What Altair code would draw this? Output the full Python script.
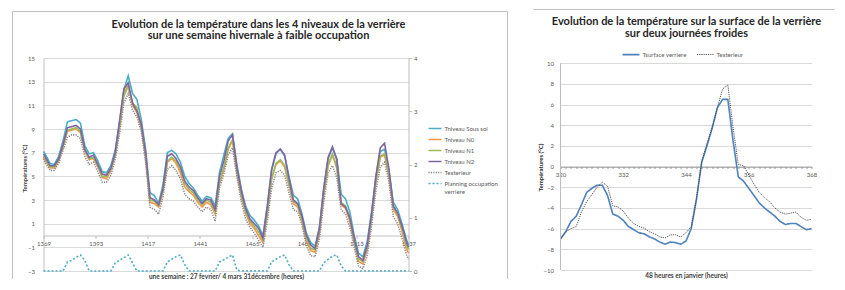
import altair as alt
import pandas as pd

FONT = "Lato"
GRID = "#d9d9d9"
AXC = "#bfbfbf"
TXT = "#595959"

# ---------------- left chart data ----------------
hours = [1369] + list(range(1370, 1537, 2)) + [1537]

sous_sol = [7.1, 6.8, 6.1, 6.0, 6.7, 8.0, 9.6, 9.7, 9.8, 9.5,
            7.6, 6.9, 7.0, 6.3, 5.4, 5.3, 5.9, 7.2, 9.5, 12.3,
            13.5, 12.0, 11.5, 9.8, 7.3, 3.6, 3.4, 2.7, 4.3, 7.0,
            7.2, 6.9, 6.2, 5.0, 4.4, 4.0, 3.4, 2.9, 3.3, 3.2,
            2.5, 5.3, 6.8, 8.2, 8.6, 6.0, 4.0, 2.5, 1.7, 1.3,
            0.8, 0.0, 2.5, 5.5, 6.9, 7.3, 6.7, 5.0, 3.4, 3.1,
            1.8, 0.2, -0.6, -0.9, 0.7, 4.0, 6.5, 7.4, 6.5, 3.5,
            3.1, 2.0, 0.0, -1.5, -1.8, -0.5, 2.0, 5.0, 7.1, 7.3,
            5.5, 2.8, 2.2, 1.0, -0.3, -0.8]
niveau_n0 = [6.6, 6.3, 5.7, 5.7, 6.3, 7.5, 8.8, 8.9, 9.0, 8.7,
             7.1, 6.4, 6.5, 5.8, 4.9, 4.8, 5.5, 6.8, 9.2, 12.0,
             12.7, 11.0, 10.4, 9.1, 6.6, 2.8, 2.7, 2.4, 3.7, 6.2,
             6.5, 6.1, 5.3, 4.1, 3.7, 3.4, 2.8, 2.4, 2.8, 2.6,
             1.8, 4.4, 5.6, 7.3, 8.0, 5.3, 3.3, 1.9, 1.0, 0.6,
             0.0, -0.6, 1.9, 4.8, 6.0, 6.3, 5.8, 4.2, 2.7, 2.4,
             1.2, -0.5, -1.3, -1.4, 0.2, 3.4, 5.9, 6.8, 5.7, 2.6,
             2.3, 1.2, -0.6, -2.2, -2.4, -1.2, 1.4, 4.5, 6.6, 6.8,
             5.0, 2.2, 1.6, 0.4, -1.1, -1.5]
niveau_n1 = [6.7, 6.4, 5.8, 5.8, 6.4, 7.6, 8.9, 9.0, 9.1, 8.8,
             7.2, 6.5, 6.6, 5.9, 5.0, 5.0, 5.6, 6.9, 9.2, 11.8,
             12.6, 11.2, 10.8, 9.3, 6.8, 3.0, 2.9, 2.5, 3.9, 6.3,
             6.6, 6.3, 5.6, 4.4, 3.9, 3.6, 3.0, 2.6, 3.0, 2.8,
             2.0, 4.5, 5.7, 7.4, 8.1, 5.5, 3.5, 2.1, 1.2, 0.8,
             0.3, -0.4, 2.0, 4.8, 6.1, 6.4, 5.9, 4.4, 2.9, 2.6,
             1.4, -0.2, -1.1, -1.2, 0.4, 3.6, 6.0, 6.9, 5.8, 2.8,
             2.5, 1.5, -0.4, -2.0, -2.2, -1.0, 1.6, 4.6, 6.7, 6.9,
             5.2, 2.4, 1.8, 0.6, -0.8, -1.2]
niveau_n2 = [6.9, 6.6, 5.9, 5.9, 6.5, 7.7, 9.1, 9.2, 9.3, 9.0,
             7.3, 6.6, 6.8, 6.0, 5.2, 5.1, 5.7, 7.0, 9.7, 12.4,
             12.9, 11.2, 10.5, 9.4, 7.0, 3.2, 3.0, 2.6, 4.0, 6.7,
             6.9, 6.5, 5.8, 4.6, 4.1, 3.8, 3.2, 2.7, 3.1, 3.0,
             2.2, 5.0, 6.3, 8.0, 8.5, 5.8, 3.8, 2.3, 1.4, 1.0,
             0.6, -0.2, 2.4, 5.6, 7.0, 7.3, 6.8, 4.8, 3.0, 2.7,
             1.6, 0.0, -0.8, -1.1, 0.6, 4.0, 6.6, 7.5, 6.4, 2.7,
             2.4, 1.5, -0.2, -1.8, -2.1, -0.8, 1.8, 5.0, 7.4, 7.8,
             5.6, 2.5, 1.9, 0.8, -0.5, -1.0]
t_exterieur = [6.5, 6.1, 5.5, 5.5, 6.1, 7.2, 8.3, 8.5, 8.5, 8.2,
               6.7, 6.0, 6.2, 5.4, 4.5, 4.5, 5.1, 6.4, 8.6, 11.2,
               12.0, 10.6, 10.0, 8.8, 6.2, 2.4, 2.2, 1.8, 3.3, 5.6,
               5.9, 5.5, 4.8, 3.5, 3.1, 2.9, 2.4, 2.0, 2.4, 2.2,
               1.2, 4.0, 5.2, 6.8, 7.4, 5.0, 2.9, 1.4, 0.7, 0.2,
               -0.4, -1.0, 1.2, 4.0, 5.3, 5.5, 5.1, 3.6, 2.2, 2.0,
               0.9, -0.9, -1.7, -1.8, -0.3, 2.8, 5.3, 5.9, 4.9, 2.2,
               1.8, 0.7, -1.0, -2.6, -2.8, -1.7, 0.8, 3.8, 5.8, 6.2,
               4.5, 1.6, 1.0, -0.2, -1.6, -2.0]
planning = [0, 0, 0, 0, 0, 0, 0.17, 0.2, 0.26, 0.3,
            0.2, 0, 0, 0, 0, 0, 0, 0.15, 0.2, 0.25,
            0.3, 0.15, 0, 0, 0, 0, 0, 0, 0, 0.17,
            0.22, 0.27, 0.3, 0.12, 0, 0, 0, 0, 0, 0,
            0, 0.17, 0.21, 0.26, 0.3, 0.02, 0, 0, 0, 0,
            0, 0, 0, 0.17, 0.22, 0.27, 0.3, 0.12, 0, 0,
            0, 0, 0, 0, 0, 0.15, 0.22, 0.28, 0.3, 0.1,
            0, 0, 0, 0, 0, 0, 0, 0, 0, 0,
            0, 0, 0, 0, 0, 0]

series_names = ["Tniveau Sous sol", "Tniveau N0", "Tniveau N1", "Tniveau N2",
                "Texterieur", "Planning occupation verriere"]
series_colors = ["#4bacc6", "#f79646", "#9bbb59", "#8064a2", "#8a8a8a", "#4bacc6"]
series_dash = [[1, 0], [1, 0], [1, 0], [1, 0], [1.2, 1.2], [2, 2]]
series_width = [1.6, 1.6, 1.6, 1.6, 1.0, 1.2]

x_ticks_left = [1369, 1393, 1417, 1441, 1465, 1489, 1513, 1537]
y_ticks_left = [-3, -1, 1, 3, 5, 7, 9, 11, 13, 15]
y2_ticks_left = [0, 1, 2, 3, 4]

title_left = ["Evolution de la température dans les 4 niveaux de la verrière",
              "sur une semaine hivernale à faible occupation"]
xtitle_left = "une semaine : 27 fevrier/ 4 mars 31décembre (heures)"
ytitle = "Températures (°C)"

# ---------------- right chart data ----------------
hours_r = list(range(320, 369))
t_surface = [-7.0, -6.3, -5.3, -4.8, -3.7, -2.5, -2.1, -1.8, -1.8, -2.8,
             -4.6, -4.8, -5.2, -5.8, -6.1, -6.4, -6.5, -6.8, -7.0, -7.3,
             -7.5, -7.3, -7.35, -7.5, -7.2, -6.0, -3.2, 0.4, 2.0, 3.7,
             5.7, 6.5, 6.5, 2.5, -1.0, -1.4, -2.1, -2.8, -3.5, -4.0,
             -4.4, -4.8, -5.3, -5.6, -5.5, -5.5, -5.8, -6.1, -6.0]
t_ext_r = [-7.0, -6.3, -6.0, -5.8, -4.4, -3.4, -2.7, -2.0, -1.5, -1.9,
           -3.8, -3.9, -4.3, -5.0, -5.5, -5.8, -5.95, -6.3, -6.5, -6.8,
           -6.9, -6.6, -6.6, -6.8, -6.4, -5.8, -3.0, 0.5, 2.2, 3.8,
           5.7, 7.5, 7.9, 3.8, 0.2, 0.1, -0.8, -1.7, -2.5, -3.0,
           -3.4, -4.0, -4.4, -4.6, -4.5, -4.4, -4.9, -5.2, -5.1]
right_names = ["Tsurface verriere", "Texterieur "]
right_colors = ["#4f81bd", "#404040"]
right_dash = [[1, 0], [1.2, 1]]
right_width = [1.6, 0.9]
y_ticks_right = [-10, -8, -6, -4, -2, 0, 2, 4, 6, 8, 10]
y_axis_span = [-10, 10]
title_right = ["Evolution de la température sur la surface de la verrière",
               "sur deux journées froides"]
xtitle_right = "48 heures en janvier (heures)"

# ---------------- build tables ----------------
rows = []
for name, vals in zip(series_names[:5], [sous_sol, niveau_n0, niveau_n1, niveau_n2, t_exterieur]):
    for h, v in zip(hours, vals):
        rows.append({"h": h, "v": v, "s": name})
temp_df = pd.DataFrame(rows)
plan_df = pd.DataFrame({"h": hours, "p": planning, "s": series_names[5]})

rows_r = []
for name, vals in zip(right_names, [t_surface, t_ext_r]):
    for h, v in zip(hours_r, vals):
        rows_r.append({"h": h, "v": v, "r": name})
right_df = pd.DataFrame(rows_r)
axis_df = pd.DataFrame({"h": [hours_r[0]], "v": [y_axis_span[0]], "v2": [y_axis_span[1]]})

one = pd.DataFrame({"k": [0]})

# ---------------- left chart ----------------
LW, LH = 365, 213
leg_left = alt.Legend(title=None, orient="none", legendX=384, legendY=63,
                      symbolType="stroke", symbolSize=170, symbolStrokeWidth=2,
                      labelFont=FONT, labelFontSize=6, labelColor=TXT, labelOffset=2,
                      rowPadding=0, padding=0,
                      labelExpr="datum.label == 'Planning occupation verriere' ? ['Planning occupation', 'verriere'] : datum.label")
color_l = alt.Color("s:N", scale=alt.Scale(domain=series_names, range=series_colors), legend=leg_left)
dash_l = alt.StrokeDash("s:N", scale=alt.Scale(domain=series_names, range=series_dash), legend=leg_left)
width_l = alt.StrokeWidth("s:N", scale=alt.Scale(domain=series_names, range=series_width), legend=None)

x_left = alt.X("h:Q", scale=alt.Scale(domain=[1369, 1537], nice=False, zero=False),
               axis=alt.Axis(values=x_ticks_left, format="d", offset=-35.5, grid=False,
                             title=xtitle_left, titleY=38, titleFont=FONT, titleFontSize=6.5,
                             titleFontWeight="bold", titleColor="#404040",
                             labelFlush=False, labelOverlap=False, labelFont=FONT, labelFontSize=6,
                             labelColor=TXT, labelPadding=2, tickSize=3, tickColor=AXC,
                             domainColor=AXC))

temps = alt.Chart(temp_df).mark_line().encode(
    x=x_left,
    y=alt.Y("v:Q", scale=alt.Scale(domain=[-3, 15], nice=False, zero=False),
            axis=alt.Axis(values=y_ticks_left, grid=True, gridColor=GRID, ticks=False,
                          labelOverlap=False, labelFont=FONT, labelFontSize=6, labelColor=TXT,
                          labelPadding=9, domainColor=AXC, title=ytitle, titleFont=FONT,
                          titleFontSize=6, titleFontWeight="bold", titleColor="#404040",
                          titleX=-16, titleY=110)),
    color=color_l, strokeDash=dash_l, strokeWidth=width_l,
)

plan = alt.Chart(plan_df).mark_line().encode(
    x=alt.X("h:Q"),
    y=alt.Y("p:Q", scale=alt.Scale(domain=[0, 4], nice=False, zero=False),
            axis=alt.Axis(orient="right", values=y2_ticks_left, grid=False, title=None,
                          labelOverlap=False, labelFont=FONT, labelFontSize=6, labelColor=TXT,
                          labelPadding=2, tickSize=3, tickColor=AXC, domainColor=AXC)),
    color=color_l, strokeDash=dash_l, strokeWidth=width_l,
)

box_top = alt.Chart(one).mark_rule(color=AXC, strokeWidth=1).encode(
    x=alt.value(-31), x2=alt.value(464), y=alt.value(-46.5))
box_l = alt.Chart(one).mark_rule(color=AXC, strokeWidth=1).encode(
    x=alt.value(-31), y=alt.value(-46.5), y2=alt.value(221))
box_r = alt.Chart(one).mark_rule(color=AXC, strokeWidth=1).encode(
    x=alt.value(464), y=alt.value(-46.5), y2=alt.value(221))
t1_left = alt.Chart(one).mark_text(font=FONT, fontSize=11, fontWeight="bold", color="#262626",
                                   align="center", baseline="middle").encode(
    x=alt.value(215), y=alt.value(-33.5), text=alt.value(title_left[0]))
t2_left = alt.Chart(one).mark_text(font=FONT, fontSize=11, fontWeight="bold", color="#262626",
                                   align="center", baseline="middle").encode(
    x=alt.value(215), y=alt.value(-22), text=alt.value(title_left[1]))

left = alt.layer(temps, plan, box_top, box_l, box_r, t1_left, t2_left).resolve_scale(
    y="independent").properties(width=LW, height=LH)

# ---------------- right chart ----------------
RW, RH = 251, 212
leg_right = alt.Legend(title=None, orient="none", legendX=61, legendY=-13, direction="horizontal",
                       symbolType="stroke", symbolSize=290, symbolStrokeWidth=1.6,
                       labelFont=FONT, labelFontSize=6, labelColor=TXT, labelOffset=2,
                       columnPadding=8, padding=0)
color_r = alt.Color("r:N", scale=alt.Scale(domain=right_names, range=right_colors), legend=leg_right)
dash_r = alt.StrokeDash("r:N", scale=alt.Scale(domain=right_names, range=right_dash), legend=leg_right)
width_r = alt.StrokeWidth("r:N", scale=alt.Scale(domain=right_names, range=right_width), legend=None)

x_axis_r = alt.Axis(values=hours_r, format="d", offset=-103.4, grid=False,
                    labelExpr="(datum.value - 320) % 12 == 0 ? datum.label : ''",
                    title=xtitle_right, titleY=106, titleFont=FONT, titleFontSize=6.5,
                    titleFontWeight="bold", titleColor="#404040",
                    labelFlush=False, labelOverlap=False, labelFont=FONT, labelFontSize=6,
                    labelColor=TXT, labelPadding=3, tickSize=2, tickColor="#999999",
                    domainColor="#999999")
y_axis_r = alt.Axis(values=y_ticks_right, grid=True, gridColor=GRID, ticks=False, domain=False,
                    labelOverlap=False, labelFont=FONT, labelFontSize=6, labelColor=TXT,
                    labelPadding=7, title=ytitle, titleFont=FONT, titleFontSize=6,
                    titleFontWeight="bold", titleColor="#262626", titleX=-17, titleY=109)
x_scale_r = alt.Scale(domain=[320, 368], nice=False, zero=False)
y_scale_r = alt.Scale(domain=[-10, 10.5], nice=False, zero=False)

lines_r = alt.Chart(right_df).mark_line().encode(
    x=alt.X("h:Q", scale=x_scale_r, axis=x_axis_r),
    y=alt.Y("v:Q", scale=y_scale_r, axis=y_axis_r),
    color=color_r, strokeDash=dash_r, strokeWidth=width_r)
yaxis_r = alt.Chart(axis_df).mark_rule(color=AXC, strokeWidth=1).encode(
    x=alt.X("h:Q", scale=x_scale_r, axis=x_axis_r),
    y=alt.Y("v:Q", scale=y_scale_r, axis=y_axis_r),
    y2="v2:Q")
topline_r = alt.Chart(one).mark_rule(color=AXC, strokeWidth=1).encode(
    x=alt.value(-27), x2=alt.value(274), y=alt.value(-48.5))
t1_right = alt.Chart(one).mark_text(font=FONT, fontSize=11, fontWeight="bold", color="#262626",
                                    align="center", baseline="middle").encode(
    x=alt.value(126), y=alt.value(-36.5), text=alt.value(title_right[0]))
t2_right = alt.Chart(one).mark_text(font=FONT, fontSize=11, fontWeight="bold", color="#262626",
                                    align="center", baseline="middle").encode(
    x=alt.value(126), y=alt.value(-24), text=alt.value(title_right[1]))

right = alt.layer(lines_r, yaxis_r, topline_r, t1_right, t2_right).properties(width=RW, height=RH)

chart = alt.hconcat(left, right, spacing=24,
                    padding={"left": 3.5, "top": 0, "right": 0, "bottom": 0}).resolve_scale(
    color="independent", strokeDash="independent", strokeWidth="independent"
).resolve_legend(color="independent", strokeDash="independent").configure_view(stroke="transparent")

chart.save("out.html", embed_options={"renderer": "svg", "actions": False})
